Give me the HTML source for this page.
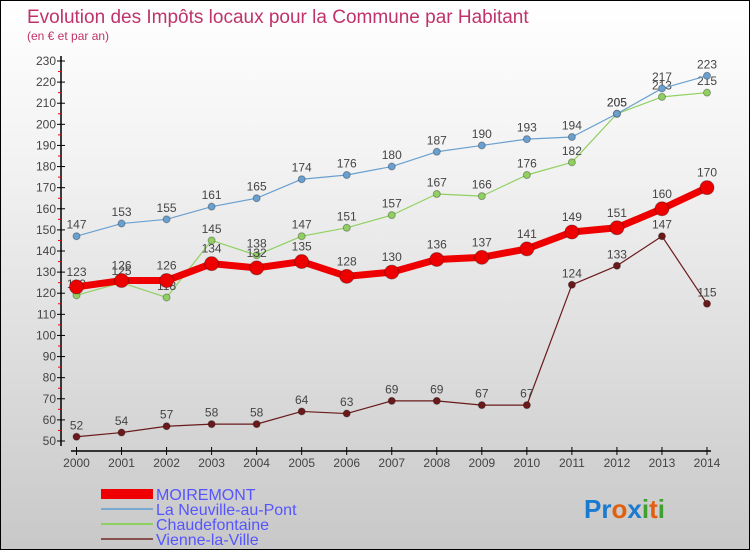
<!DOCTYPE html>
<html><head><meta charset="utf-8"><style>
body{margin:0}
#wrap{width:750px;height:550px;position:relative;box-sizing:border-box;border:1px solid #000;background:linear-gradient(#fff,#f2f2f2 30%,#c8c8c8);font-family:"Liberation Sans",sans-serif;overflow:hidden}
svg text{font-family:"Liberation Sans",sans-serif}
</style></head><body>
<div id="wrap">
<svg id="s" width="750" height="550">
<text x="26" y="22" font-size="19" fill="#c0336a">Evolution des Impôts locaux pour la Commune par Habitant</text>
<text x="26" y="39" font-size="12" fill="#c0336a">(en € et par an)</text>
<g id="axes"></g><g id="series"></g>
<g>
<rect x="100" y="488" width="52" height="10" fill="#e00"/>
<text x="155" y="499" font-size="16" fill="#55f">MOIREMONT</text>
<line x1="100" y1="508" x2="152" y2="508" stroke="#7aaad0" stroke-width="2"/>
<text x="155" y="514" font-size="16" fill="#55f">La Neuville-au-Pont</text>
<line x1="100" y1="523" x2="152" y2="523" stroke="#90d060" stroke-width="2"/>
<text x="155" y="529" font-size="16" fill="#55f">Chaudefontaine</text>
<line x1="100" y1="538" x2="152" y2="538" stroke="#8a5050" stroke-width="2"/>
<text x="155" y="544" font-size="16" fill="#55f">Vienne-la-Ville</text>
</g>
<text x="583" y="517" font-size="26" font-weight="bold"><tspan fill="#1a7ad0">Pr</tspan><tspan fill="#e06010">o</tspan><tspan fill="#1a7ad0">x</tspan><tspan fill="#40a030">i</tspan><tspan fill="#e06010">t</tspan><tspan fill="#40a030">i</tspan></text>
</svg></div>
<script>
const years=[2000,2001,2002,2003,2004,2005,2006,2007,2008,2009,2010,2011,2012,2013,2014];
const moiremont=[123,126,126,134,132,135,128,130,136,137,141,149,151,160,170];
const neuville=[147,153,155,161,165,174,176,180,187,190,193,194,205,217,223];
const chaudefontaine=[119,125,118,145,138,147,151,157,167,166,176,182,205,213,215];
const vienne=[52,54,57,58,58,64,63,69,69,67,67,124,133,147,115];
const yTicks=[50,60,70,80,90,100,110,120,130,140,150,160,170,180,190,200,210,220,230];
const NS="http://www.w3.org/2000/svg";
const xS=i=>75.5+i*(706-75.5)/(years.length-1);
const yS=v=>440-(v-50)*(380/180);
function mk(tag,attrs,parent){const e=document.createElementNS(NS,tag);for(const k in attrs)e.setAttribute(k,attrs[k]);parent.appendChild(e);return e;}
const ax=document.getElementById('axes');
let e=mk('line',{x1:60,y1:55,x2:60,y2:445,stroke:'#000','stroke-width':1.5},ax);


e=mk('line',{x1:70,y1:450,x2:710,y2:450,stroke:'#000','stroke-width':1.5},ax);


yTicks.forEach((v,i)=>{
 mk('line',{x1:56,y1:yS(v),x2:64,y2:yS(v),stroke:'#000'},ax);
 if(i<yTicks.length-1)mk('line',{x1:57,y1:yS(v+5),x2:60,y2:yS(v+5),stroke:'#e00'},ax);
 const t=mk('text',{x:55,y:yS(v)+4,'font-size':12,fill:'#444','text-anchor':'end'},ax);t.textContent=v;
 
 
});
years.forEach((y,i)=>{
 mk('line',{x1:xS(i),y1:446,x2:xS(i),y2:454,stroke:'#000'},ax);
 const t=mk('text',{x:xS(i),y:466,'font-size':12,fill:'#444','text-anchor':'middle'},ax);t.textContent=y;
 
 
});
const sg=document.getElementById('series');
function draw(data,color,w,r,name){
 const g=mk('g',{},sg);
 
 
 const p=mk('polyline',{points:data.map((v,i)=>xS(i)+','+yS(v)).join(' '),fill:'none',stroke:color,'stroke-width':w,'stroke-linejoin':'round'},g);
 
 
 data.forEach((v,i)=>{
  const c=mk('circle',{cx:xS(i),cy:yS(v),r:r,fill:color,stroke:'rgba(0,0,0,0.3)'},g);
  
  
  const t=mk('text',{x:xS(i),y:yS(v)-r-4,'font-size':12,fill:'#444','text-anchor':'middle'},g);t.textContent=v;
  
  
 });
}
draw(vienne,'#6a1a1a',1.2,3.5,'vienne');
draw(chaudefontaine,'#90d060',1.2,3.5,'chaudefontaine');
draw(neuville,'#6aa0d0',1.2,3.5,'neuville');
draw(moiremont,'#ee0000',7,7,'moiremont');
</script>
</body></html>
